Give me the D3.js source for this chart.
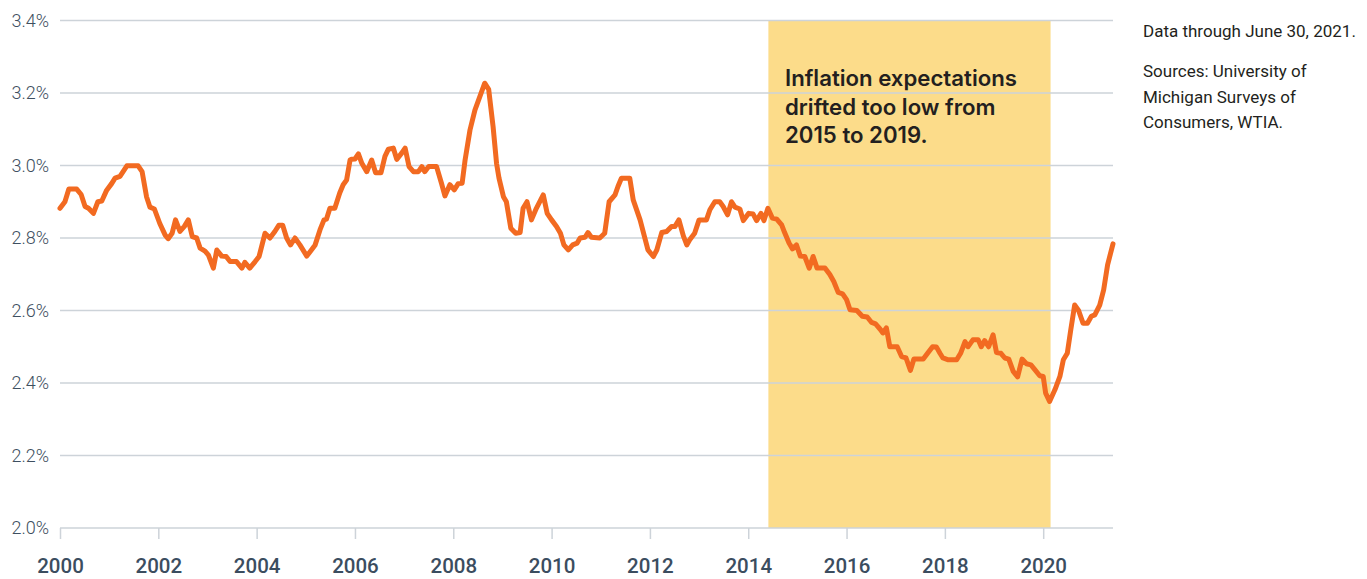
<!DOCTYPE html>
<html>
<head>
<meta charset="utf-8">
<script src="https://cdn.jsdelivr.net/npm/d3@7"></script>
<style>
  body { margin: 0; background: #fff; }
</style>
</head>
<body>
<svg id="chart"></svg>
<script>
// data (decimal year, percent)
const years = [
  2000.00, 2000.10, 2000.18, 2000.34, 2000.43, 2000.51, 2000.58, 2000.68, 2000.77, 2000.85, 2000.95,
  2001.05, 2001.12, 2001.22, 2001.36, 2001.59, 2001.67, 2001.76, 2001.83, 2001.92,
  2002.03, 2002.14, 2002.20, 2002.28, 2002.35, 2002.44, 2002.53, 2002.61, 2002.69, 2002.78, 2002.85, 2002.95,
  2003.02, 2003.12, 2003.19, 2003.29, 2003.38, 2003.46, 2003.59, 2003.70, 2003.76, 2003.86, 2003.97,
  2004.05, 2004.17, 2004.27, 2004.37, 2004.45, 2004.53, 2004.61, 2004.69, 2004.78, 2004.88,
  2005.02, 2005.19, 2005.29, 2005.37, 2005.42, 2005.49, 2005.59, 2005.69, 2005.76, 2005.83, 2005.90, 2005.93,
  2006.00, 2006.07, 2006.14, 2006.24, 2006.34, 2006.42, 2006.53, 2006.61, 2006.68, 2006.78, 2006.85, 2006.95,
  2007.02, 2007.10, 2007.19, 2007.29, 2007.36, 2007.42, 2007.50, 2007.66, 2007.76, 2007.83, 2007.93,
  2008.02, 2008.10, 2008.18, 2008.24, 2008.34, 2008.44, 2008.54, 2008.64, 2008.72, 2008.81, 2008.88, 2008.93,
  2009.02, 2009.08, 2009.17, 2009.27, 2009.36, 2009.42, 2009.50, 2009.59, 2009.69, 2009.83, 2009.91,
  2010.00, 2010.10, 2010.18, 2010.25, 2010.34, 2010.43, 2010.52, 2010.58, 2010.68, 2010.74, 2010.81, 2010.98,
  2011.08, 2011.17, 2011.29, 2011.35, 2011.42, 2011.59, 2011.66, 2011.80, 2011.96,
  2012.07, 2012.14, 2012.24, 2012.34, 2012.44, 2012.51, 2012.59, 2012.68, 2012.75, 2012.81, 2012.91,
  2013.00, 2013.15, 2013.22, 2013.32, 2013.42, 2013.49, 2013.58, 2013.66, 2013.73, 2013.83, 2013.90,
  2014.01, 2014.10, 2014.17, 2014.26, 2014.32, 2014.40, 2014.49, 2014.58, 2014.68, 2014.74, 2014.83, 2014.90, 2014.98,
  2015.06, 2015.15, 2015.24, 2015.32, 2015.40, 2015.56, 2015.66, 2015.74, 2015.83, 2015.92,
  2016.00, 2016.07, 2016.21, 2016.32, 2016.42, 2016.51, 2016.59, 2016.68, 2016.74, 2016.81, 2016.88,
  2017.03, 2017.12, 2017.21, 2017.30, 2017.37, 2017.56, 2017.66, 2017.75, 2017.83, 2017.90, 2017.96,
  2018.07, 2018.24, 2018.32, 2018.41, 2018.47, 2018.57, 2018.68, 2018.74, 2018.81, 2018.89, 2018.98,
  2019.05, 2019.14, 2019.22, 2019.30, 2019.39, 2019.48, 2019.57, 2019.66, 2019.75, 2019.83, 2019.93,
  2020.00, 2020.05, 2020.13, 2020.24, 2020.34, 2020.41, 2020.49, 2020.56, 2020.64, 2020.72, 2020.81, 2020.90, 2020.98,
  2021.05, 2021.15, 2021.23, 2021.31, 2021.42
];
const values = [
  2.882, 2.900, 2.935, 2.935, 2.920, 2.887, 2.882, 2.868, 2.900, 2.902, 2.932,
  2.950, 2.965, 2.970, 2.999, 2.999, 2.983, 2.914, 2.885, 2.880,
  2.840, 2.808, 2.798, 2.813, 2.850, 2.818, 2.832, 2.850, 2.804, 2.800, 2.772, 2.764,
  2.753, 2.717, 2.767, 2.750, 2.749, 2.735, 2.735, 2.717, 2.733, 2.717, 2.735,
  2.749, 2.813, 2.800, 2.818, 2.835, 2.835, 2.800, 2.781, 2.800, 2.781,
  2.750, 2.781, 2.823, 2.850, 2.852, 2.882, 2.882, 2.924, 2.947, 2.960, 3.015, 3.017,
  3.018, 3.032, 3.006, 2.983, 3.015, 2.980, 2.980, 3.025, 3.045, 3.048, 3.017, 3.034,
  3.048, 2.997, 2.983, 2.983, 2.997, 2.983, 2.997, 2.997, 2.951, 2.916, 2.947,
  2.933, 2.950, 2.951, 3.015, 3.098, 3.153, 3.190, 3.227, 3.210, 3.107, 3.006, 2.965,
  2.914, 2.900, 2.827, 2.813, 2.815, 2.882, 2.900, 2.850, 2.882, 2.919, 2.868,
  2.850, 2.832, 2.813, 2.781, 2.767, 2.781, 2.786, 2.800, 2.802, 2.815, 2.802, 2.800,
  2.813, 2.900, 2.919, 2.942, 2.965, 2.965, 2.905, 2.850, 2.767,
  2.749, 2.767, 2.815, 2.818, 2.832, 2.832, 2.850, 2.806, 2.781, 2.795, 2.813,
  2.850, 2.850, 2.878, 2.900, 2.900, 2.887, 2.864, 2.900, 2.885, 2.880, 2.848,
  2.868, 2.866, 2.848, 2.868, 2.848, 2.882, 2.855, 2.852, 2.836, 2.815, 2.786, 2.770, 2.781,
  2.750, 2.749, 2.717, 2.749, 2.717, 2.717, 2.699, 2.680, 2.650, 2.646,
  2.630, 2.602, 2.600, 2.584, 2.582, 2.567, 2.563, 2.549, 2.538, 2.552, 2.500,
  2.500, 2.473, 2.469, 2.435, 2.466, 2.466, 2.484, 2.500, 2.499, 2.482, 2.469,
  2.464, 2.464, 2.482, 2.514, 2.500, 2.519, 2.519, 2.500, 2.517, 2.500, 2.533,
  2.484, 2.482, 2.469, 2.466, 2.432, 2.417, 2.466, 2.453, 2.450, 2.437, 2.420,
  2.418, 2.372, 2.349, 2.382, 2.418, 2.464, 2.482, 2.546, 2.615, 2.600, 2.565, 2.565, 2.584,
  2.588, 2.615, 2.657, 2.726, 2.784
];
const data = years.map((y, i) => [y, values[i]]);

const yTicks = [2.0, 2.2, 2.4, 2.6, 2.8, 3.0, 3.2, 3.4];
const xTicks = [2000, 2002, 2004, 2006, 2008, 2010, 2012, 2014, 2016, 2018, 2020];
const band = [2014.41, 2020.15];
const annotation = ["Inflation expectations", "drifted too low from", "2015 to 2019."];
const notes = ["Data through June 30, 2021."];
const sources = ["Sources: University of", "Michigan Surveys of", "Consumers, WTIA."];

// canvas variables
const width = 1367;
const height = 579;
const plotLeft = 60;
const plotRight = 1113;
const plotTop = 20.5;
const plotBottom = 528;

const svg = d3.select("#chart").attr("width", width).attr("height", height);

const xScale = d3.scaleLinear().domain([2000, 2021.42]).range([plotLeft, plotRight]);
const yScale = d3.scaleLinear().domain([2.0, 3.4]).range([plotBottom, plotTop]);

// highlight band
svg
  .append("rect")
  .attr("x", xScale(band[0]))
  .attr("y", yScale(3.4))
  .attr("width", xScale(band[1]) - xScale(band[0]))
  .attr("height", yScale(2.0) - yScale(3.4))
  .style("fill", "#fcdc8a");

// grid lines
svg
  .append("g")
  .selectAll("line")
  .data(yTicks)
  .enter()
  .append("line")
  .attr("x1", plotLeft)
  .attr("x2", plotRight)
  .attr("y1", (d) => yScale(d))
  .attr("y2", (d) => yScale(d))
  .style("stroke", "#cdd3d9")
  .style("stroke-width", 1.5);

// y labels
svg
  .append("g")
  .selectAll("text")
  .data(yTicks)
  .enter()
  .append("text")
  .attr("x", 49)
  .attr("y", (d) => yScale(d))
  .attr("dy", "0.36em")
  .style("text-anchor", "end")
  .style("font-family", "Roboto")
  .style("font-weight", 300)
  .style("font-size", "18px")
  .style("fill", "#3e4f60")
  .text((d) => d.toFixed(1) + "%");

// x axis
const xAxis = svg
  .append("g")
  .attr("transform", `translate(0, ${plotBottom})`)
  .call(
    d3.axisBottom(xScale).tickValues(xTicks).tickFormat(d3.format("d")).tickSize(11).tickPadding(19)
  );
xAxis.select(".domain").remove();
xAxis.selectAll(".tick line").style("stroke", "#cdd3d9").style("stroke-width", 1.5);
xAxis
  .selectAll(".tick text")
  .style("font-family", "Roboto")
  .style("font-weight", 500)
  .style("font-size", "20.5px")
  .style("fill", "#3b4d5f");

// line
svg
  .append("path")
  .datum(data)
  .attr(
    "d",
    d3
      .line()
      .x((d) => xScale(d[0]))
      .y((d) => yScale(d[1]))
  )
  .style("fill", "none")
  .style("stroke", "#f26a21")
  .style("stroke-width", 5)
  .style("stroke-linejoin", "round")
  .style("stroke-linecap", "round");

// annotation
svg
  .append("g")
  .selectAll("text")
  .data(annotation)
  .enter()
  .append("text")
  .attr("x", 785)
  .attr("y", (d, i) => 86 + i * 28.5)
  .style("font-family", "Inter")
  .style("font-weight", 600)
  .style("font-size", "22.2px")
  .style("fill", "#231f20")
  .text((d) => d);

// side notes
svg
  .append("text")
  .attr("x", 1143)
  .attr("y", 37)
  .style("font-family", "Roboto")
  .style("font-size", "17px")
  .style("fill", "#231f20")
  .text(notes[0]);

svg
  .append("g")
  .selectAll("text")
  .data(sources)
  .enter()
  .append("text")
  .attr("x", 1143)
  .attr("y", (d, i) => 77 + i * 25.5)
  .style("font-family", "Roboto")
  .style("font-size", "17px")
  .style("fill", "#231f20")
  .text((d) => d);
</script>
</body>
</html>
